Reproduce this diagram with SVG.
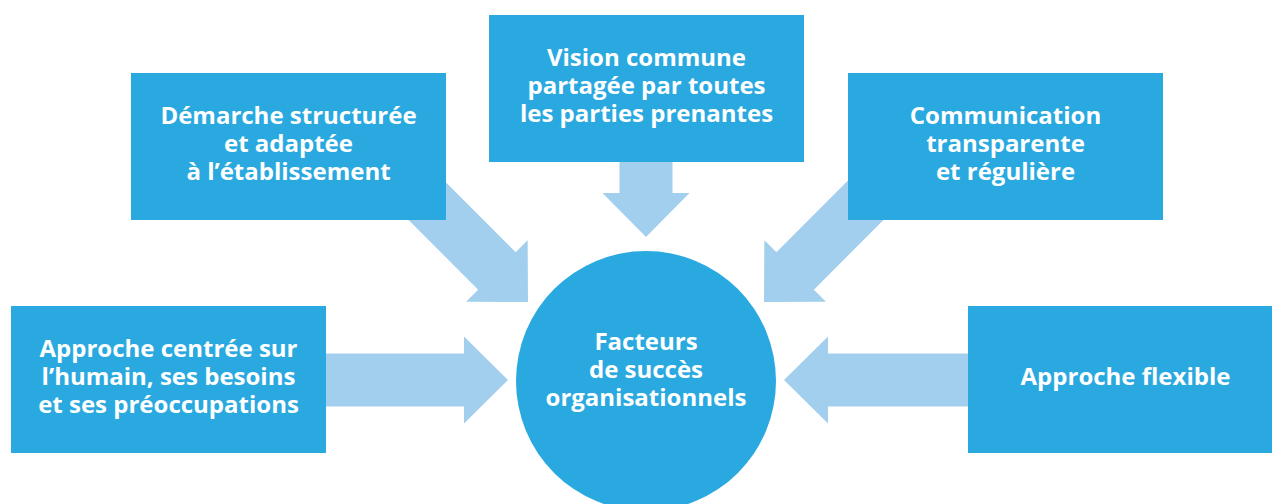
<svg xmlns="http://www.w3.org/2000/svg" width="1272" height="504" viewBox="0 0 1272 504">
  <style>
    .box { fill: #29a9e0; }
    .hub { fill: #29a9e0; }
    .arrow { fill: #a3cfee; }
    .label { fill: #ffffff; font-family: "Open Sans", "Noto Sans", "DejaVu Sans", sans-serif; font-weight: 700; font-size: 24px; text-anchor: middle; }
  </style>
  <defs>
    <!-- block arrow pointing right, tip at the origin; shaft runs back along -x -->
    <path id="blockArrow" d="M -200 -26.5 L -44 -26.5 L -44 -43.5 L 0 0 L -44 43.5 L -44 26.5 L -200 26.5 Z"/>
  </defs>
  <rect width="1272" height="504" fill="#ffffff"/>

  <!-- connectors: block arrows drawn under the boxes -->
  <g id="connectors" class="arrow">
    <!-- from left box -->
    <path d="M 326 353.5 L 464 353.5 L 464 336.5 L 508 380 L 464 423.5 L 464 406.5 L 326 406.5 Z"/>
    <!-- from right box -->
    <path d="M 968 353.5 L 828 353.5 L 828 336.5 L 784 380 L 828 423.5 L 828 406.5 L 968 406.5 Z"/>
    <!-- from top box -->
    <path d="M 619.5 162 L 619.5 193 L 602.5 193 L 646 237 L 689.5 193 L 672.5 193 L 672.5 162 Z"/>
    <!-- diagonals -->
    <use href="#blockArrow" transform="translate(528 302) rotate(45)"/>
    <use href="#blockArrow" transform="translate(764 302) rotate(135)"/>
  </g>

  <g id="node-demarche">
    <rect class="box" x="131" y="73" width="315" height="147"/>
    <text class="label" x="288.5" y="124">Démarche structurée</text>
    <text class="label" x="288.5" y="152">et adaptée</text>
    <text class="label" x="288.5" y="180">à l’établissement</text>
  </g>

  <g id="node-vision">
    <rect class="box" x="489" y="15" width="315" height="147"/>
    <text class="label" x="646.5" y="66">Vision commune</text>
    <text class="label" x="646.5" y="94">partagée par toutes</text>
    <text class="label" x="646.5" y="122">les parties prenantes</text>
  </g>

  <g id="node-communication">
    <rect class="box" x="848" y="73" width="315" height="147"/>
    <text class="label" x="1005.5" y="124">Communication</text>
    <text class="label" x="1005.5" y="152">transparente</text>
    <text class="label" x="1005.5" y="180">et régulière</text>
  </g>

  <g id="node-humain">
    <rect class="box" x="11" y="306" width="315" height="147"/>
    <text class="label" x="168.5" y="357">Approche centrée sur</text>
    <text class="label" x="168.5" y="385">l’humain, ses besoins</text>
    <text class="label" x="168.5" y="413">et ses préoccupations</text>
  </g>

  <g id="node-flexible">
    <rect class="box" x="968" y="306" width="304" height="147"/>
    <text class="label" x="1125.5" y="385">Approche flexible</text>
  </g>

  <g id="node-facteurs">
    <circle class="hub" cx="646" cy="381" r="130"/>
    <text class="label" x="646" y="350">Facteurs</text>
    <text class="label" x="646" y="378">de succès</text>
    <text class="label" x="646" y="406">organisationnels</text>
  </g>
</svg>
